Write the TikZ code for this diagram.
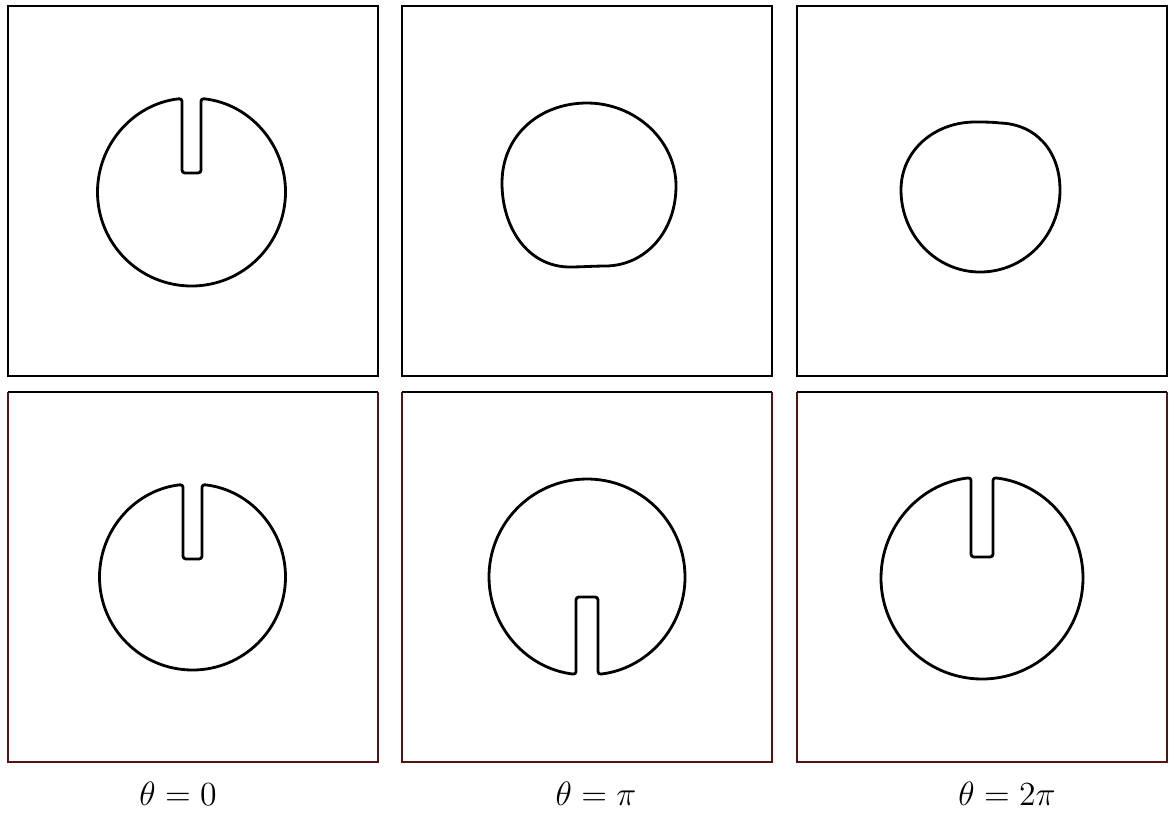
\documentclass[tikz,border=0pt]{standalone}
\usepackage{amsmath,amssymb}
\usepackage{xcolor}
\usepackage{tikz}
\usetikzlibrary{positioning,calc}

\definecolor{framered}{RGB}{85,20,20}

% slotted disk: center x, center y, radius, slot half width, slot end, flip
\newcommand{\slotdisk}[6]{%
  \begin{scope}[shift={(#1,#2)}, yscale=#6]
    \draw[contour, rounded corners=1.2pt] (#4,{sqrt(#3*#3-#4*#4)})
      arc[start angle={acos(#4/#3)}, end angle={-180-acos(#4/#3)}, radius=#3]
      -- (-#4,#5) -- (#4,#5) -- cycle;
  \end{scope}}

\begin{document}
\begin{tikzpicture}[x=0.015cm, y=-0.015cm,
  panel/.style={draw=black, line width=0.6pt},
  panelb/.style={draw=framered, line width=0.6pt},
  contour/.style={draw=black, line width=1.2pt, line join=round},
  caption/.style={font=\fontsize{13.5}{16}\selectfont, anchor=base}
  ]
  \useasboundingbox (0,0) rectangle (1176,816);
  % top row
  \draw[panel] (8,6) rectangle (378,376);
  \draw[panel] (402,6) rectangle (772,376);
  \draw[panel] (797,6) rectangle (1167,376);
  % bottom row
  \draw[panelb] (8,392) -- (8,762) -- (378,762) -- (378,392);
  \draw[panel] (8,392) -- (378,392);
  \draw[panelb] (402,392) -- (402,762) -- (772,762) -- (772,392);
  \draw[panel] (402,392) -- (772,392);
  \draw[panelb] (797,392) -- (797,762) -- (1167,762) -- (1167,392);
  \draw[panel] (797,392) -- (1167,392);

  \slotdisk{191.5}{192}{94}{9.5}{19}{-1}
  % half turn
  \draw[contour] (502,183) .. controls (502,135) and (540,103) .. (587,103)
    .. controls (635,103) and (676,140) .. (676,186)
    .. controls (676,232) and (645,266) .. (605,266)
    .. controls (595,266) and (580,267) .. (570,267)
    .. controls (528,267) and (502,228) .. (502,183) -- cycle;
  % full turn
  \draw[contour] (901,190) .. controls (901,150) and (935,122) .. (975,122)
    .. controls (984,122) and (992,122) .. (1000,123)
    .. controls (1035,124) and (1060,150) .. (1060,190)
    .. controls (1060,235) and (1025,272) .. (980,272)
    .. controls (936,272) and (901,235) .. (901,190) -- cycle;

  \slotdisk{192.5}{577}{93}{9.5}{18}{-1}
  \slotdisk{587}{577}{98}{11}{20}{1}
  \slotdisk{982}{578}{101}{11}{21}{-1}

  \node[caption] (t0) at (178,805) {$\theta = 0$};
  \node[caption] (t1) at (596,805) {$\theta = \pi$};
  \node[caption] (t2) at (1007,805) {$\theta = 2\pi$};
\end{tikzpicture}
\end{document}
